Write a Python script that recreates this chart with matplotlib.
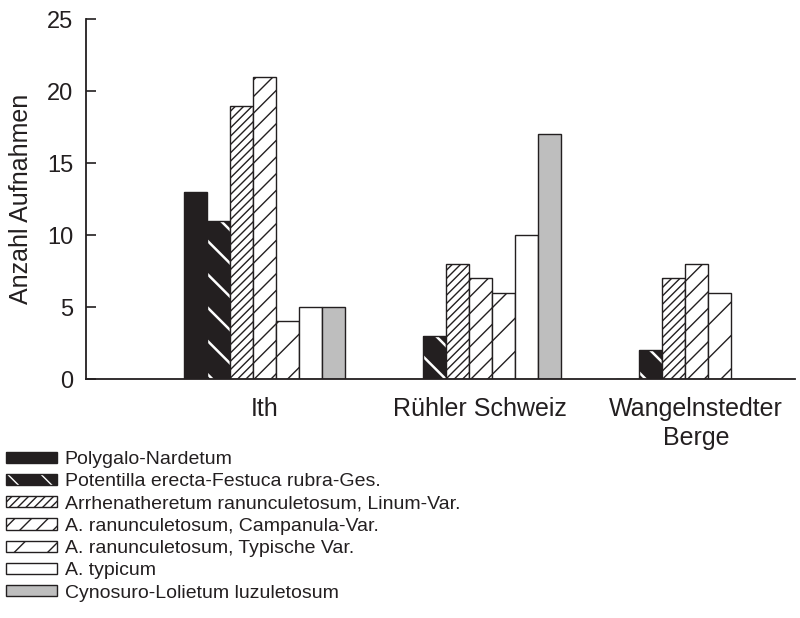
import numpy as np
import matplotlib
matplotlib.use("Agg")
import matplotlib.pyplot as plt
from matplotlib.legend_handler import HandlerTuple

plt.rcParams['font.family'] = ['Liberation Sans', 'DejaVu Sans']

regions = ["Ith", "Rühler Schweiz", "Wangelnstedter\nBerge"]
communities = [
    "Polygalo-Nardetum",
    "Potentilla erecta-Festuca rubra-Ges.",
    "Arrhenatheretum ranunculetosum, Linum-Var.",
    "A. ranunculetosum, Campanula-Var.",
    "A. ranunculetosum, Typische Var.",
    "A. typicum",
    "Cynosuro-Lolietum luzuletosum",
]
counts = [
    [13, 0, 0],
    [11, 3, 2],
    [19, 8, 7],
    [21, 7, 8],
    [4, 6, 6],
    [5, 10, 0],
    [5, 17, 0],
]

dark = "#231f20"
faces = [dark, dark, "white", "white", "white", "white", "#bebebe"]
hatches = [None, "\\", "////", "//", "/", None, None]
hatch_cols = [dark, "white", dark, dark, dark, dark, dark]
hatch_lw = [1.0, 1.8, 1.0, 1.0, 1.0, 1.0, 1.0]

fig = plt.figure(figsize=(8, 6.18), dpi=100)
ax = fig.add_axes([0.1075, 0.3867, 0.8865, 0.5823])

x = np.arange(len(regions))
w = 0.1065
handles = []
for i, name in enumerate(communities):
    pos = x + (i - 3) * w
    # fill + hatch first, then the outline on top
    with plt.rc_context({'hatch.linewidth': hatch_lw[i]}):
        b1 = ax.bar(pos, counts[i], w, color=faces[i], edgecolor=hatch_cols[i],
                    hatch=hatches[i], linewidth=0)
    b2 = ax.bar(pos, counts[i], w, fill=False, edgecolor=dark, linewidth=1.0)
    handles.append((b1.patches[0], b2.patches[0]))

ax.set_xlim(-0.826, 2.458)
ax.set_ylim(0, 25)
ax.set_yticks([0, 5, 10, 15, 20, 25])
ax.set_xticks(x)
ax.set_xticklabels(regions, fontsize=18, linespacing=1.25)
ax.tick_params(axis='x', length=0, pad=13, colors=dark)
ax.tick_params(axis='y', direction='in', length=7, width=1.2, labelsize=17,
               pad=9, colors=dark)
ax.set_ylabel("Anzahl Aufnahmen", fontsize=18, color=dark, labelpad=10)
for s in ['top', 'right']:
    ax.spines[s].set_visible(False)
for s in ['left', 'bottom']:
    ax.spines[s].set_color(dark)
    ax.spines[s].set_linewidth(1.3)

fig.legend(handles, communities, loc='upper left', bbox_to_anchor=(0.008, 0.270),
           frameon=False, fontsize=14, handlelength=2.6, handleheight=0.5,
           handletextpad=0.4, labelspacing=0.27, borderaxespad=0.0, borderpad=0.0,
           labelcolor=dark,
           handler_map={tuple: HandlerTuple(ndivide=1)})

fig.savefig("out.png", dpi=100)
